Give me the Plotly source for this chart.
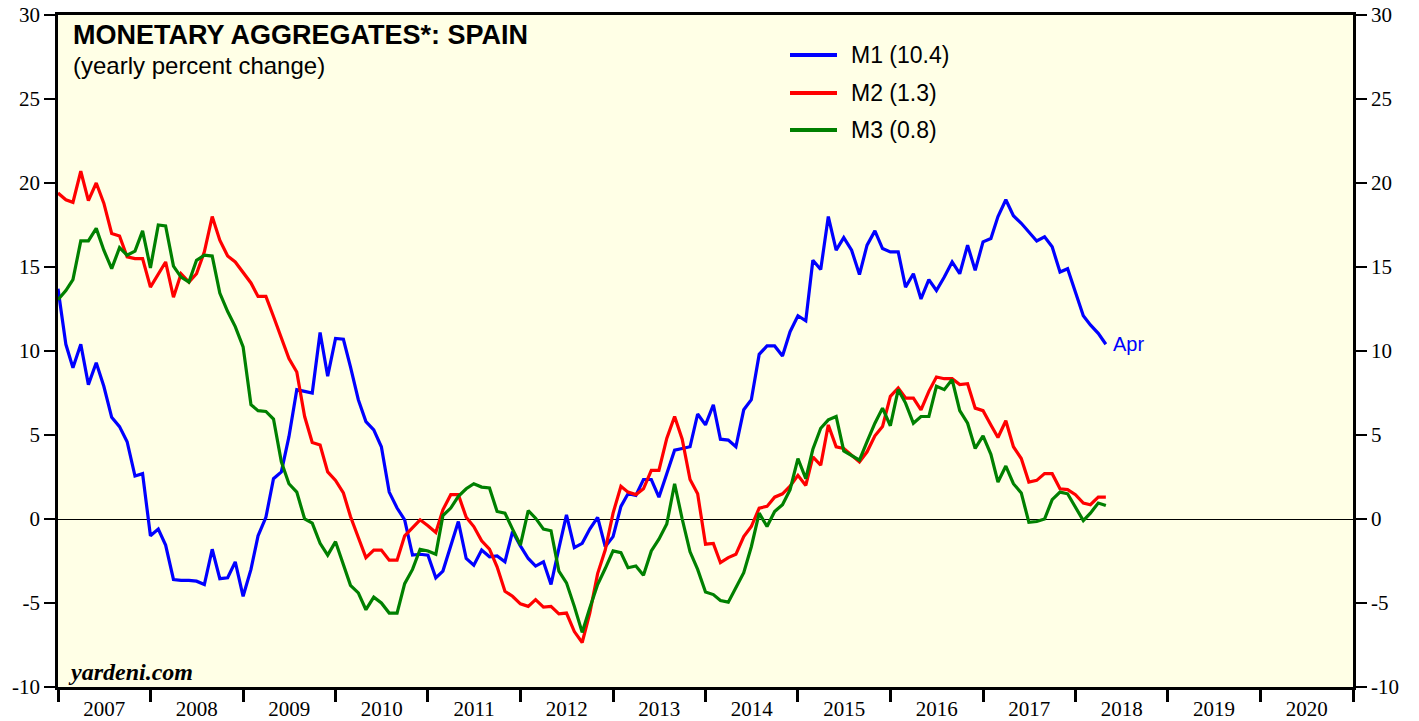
import pandas as pd
import plotly.graph_objects as go

# Monthly observations, Dec 2006 .. Apr 2018 (plotted at month end)
dates = pd.date_range("2007-01-01", periods=137, freq="MS")

m1 = [13.7, 10.4, 9.0, 10.4, 8.0, 9.3, 7.9, 6.05, 5.5, 4.6, 2.56, 2.7,
      -1.0, -0.6, -1.55, -3.6, -3.65, -3.65, -3.7, -3.9, -1.8, -3.55, -3.5, -2.55,
      -4.6, -3.0, -1.0, 0.1, 2.4, 2.8, 4.9, 7.7, 7.6, 7.5, 11.1, 8.5,
      10.75, 10.7, 9.05, 7.1, 5.8, 5.3, 4.3, 1.6, 0.65, -0.05, -2.15, -2.1,
      -2.15, -3.5, -3.1, -1.55, -0.15, -2.35, -2.75, -1.85, -2.25, -2.2, -2.55, -0.75,
      -1.6, -2.35, -2.8, -2.55, -3.9, -1.75, 0.25, -1.7, -1.45, -0.6, 0.1, -1.65,
      -1.05, 0.75, 1.5, 1.4, 2.35, 2.35, 1.3, 2.7, 4.1, 4.2, 4.3, 6.25,
      5.6, 6.8, 4.75, 4.7, 4.3, 6.5, 7.1, 9.8, 10.3, 10.3, 9.7, 11.15,
      12.1, 11.8, 15.4, 14.85, 18.0, 16.0, 16.75, 16.0, 14.55, 16.3, 17.15, 16.1,
      15.9, 15.9, 13.8, 14.6, 13.1, 14.25, 13.6, 14.4, 15.3, 14.6, 16.3, 14.8,
      16.5, 16.7, 18.0, 19.0, 18.05, 17.6, 17.05, 16.55, 16.8, 16.2, 14.7, 14.9,
      13.5, 12.1, 11.55, 11.05, 10.4]

m2 = [19.4, 19.0, 18.85, 20.7, 18.95, 20.0, 18.8, 17.0, 16.85, 15.6, 15.5, 15.5,
      13.8, 14.6, 15.3, 13.2, 14.6, 14.1, 14.6, 15.9, 18.0, 16.6, 15.65, 15.3,
      14.65, 14.05, 13.25, 13.25, 12.05, 10.75, 9.55, 8.75, 6.1, 4.55, 4.4, 2.8,
      2.3, 1.55, 0.15, -1.1, -2.3, -1.85, -1.85, -2.45, -2.45, -1.0, -0.55, -0.05,
      -0.4, -0.8, 0.55, 1.45, 1.45, 0.1, -0.45, -1.3, -1.8, -2.85, -4.3, -4.6,
      -5.05, -5.2, -4.8, -5.25, -5.2, -5.65, -5.6, -6.7, -7.35, -5.6, -3.25, -1.85,
      0.35, 1.95, 1.6, 1.45, 1.8, 2.9, 2.9, 4.8, 6.1, 4.75, 2.35, 1.5,
      -1.5, -1.45, -2.6, -2.3, -2.1, -1.05, -0.45, 0.65, 0.75, 1.3, 1.5, 1.95,
      2.6, 2.0, 3.7, 3.2, 5.6, 4.3, 4.2, 3.8, 3.4, 4.0, 4.95, 5.5,
      7.3, 7.8, 7.2, 7.2, 6.5, 7.6, 8.45, 8.35, 8.35, 8.0, 8.05, 6.6,
      6.45, 5.6, 4.85, 5.85, 4.3, 3.6, 2.2, 2.3, 2.7, 2.7, 1.8, 1.75,
      1.45, 0.95, 0.85, 1.3, 1.3]

m3 = [13.05, 13.6, 14.25, 16.55, 16.55, 17.3, 16.0, 14.9, 16.15, 15.7, 15.95, 17.15,
      14.95, 17.5, 17.45, 15.05, 14.4, 14.1, 15.4, 15.7, 15.65, 13.45, 12.35, 11.45,
      10.25, 6.8, 6.45, 6.4, 5.95, 3.4, 2.1, 1.6, 0.0, -0.25, -1.45, -2.15,
      -1.35, -2.65, -3.95, -4.4, -5.4, -4.65, -5.0, -5.6, -5.6, -3.85, -3.0, -1.8,
      -1.9, -2.1, 0.2, 0.65, 1.35, 1.8, 2.1, 1.9, 1.85, 0.45, 0.35, -0.6,
      -1.55, 0.5, 0.05, -0.6, -0.7, -3.1, -3.8, -5.2, -6.75, -5.3, -3.9, -2.95,
      -1.9, -2.0, -2.9, -2.8, -3.35, -1.9, -1.2, -0.3, 2.1, 0.0, -1.95, -3.0,
      -4.35, -4.5, -4.85, -4.95, -4.05, -3.2, -1.65, 0.35, -0.45, 0.45, 0.85, 1.75,
      3.6, 2.4, 4.15, 5.4, 5.9, 6.1, 4.05, 3.75, 3.5, 4.6, 5.7, 6.6,
      5.55, 7.7, 6.9, 5.7, 6.1, 6.1, 7.9, 7.7, 8.3, 6.45, 5.7, 4.2,
      4.95, 3.85, 2.2, 3.15, 2.1, 1.55, -0.2, -0.15, 0.0, 1.15, 1.6, 1.5,
      0.7, -0.1, 0.35, 0.95, 0.8]

series_names = ["M1 (10.4)", "M2 (1.3)", "M3 (0.8)"]
series_colors = ["#0000FF", "#FF0000", "#008000"]
y_ticks = [-10, -5, 0, 5, 10, 15, 20, 25, 30]
y_tick_text = ["-10", "-5", "0", "5", "10", "15", "20", "25", "30"]

SERIF = "Liberation Serif, Times New Roman, serif"
SANS = "Liberation Sans, Arial, Helvetica, sans-serif"

# plot-area geometry in page pixels (body margin removed by post_script)
FIG_W, FIG_H = 1419, 721
PL, PT, PW, PH = 58, 15, 1295, 672
ML, MT = PL, PT
MR, MB = FIG_W - ML - PW, FIG_H - MT - PH


def px(x):
    return (x - PL) / PW


def py(y):
    return 1 - (y - PT) / PH


fig = go.Figure()
for vals, name, col in zip([m1, m2, m3], series_names, series_colors):
    fig.add_trace(go.Scatter(x=dates, y=vals, mode="lines", name=name,
                             showlegend=False, line=dict(color=col, width=3.2)))

# dummy trace bound to right axis so it is drawn
fig.add_trace(go.Scatter(x=dates, y=m1, mode="lines", yaxis="y2", showlegend=False,
                         hoverinfo="skip", line=dict(width=0, color="rgba(0,0,0,0)")))

# legend drawn manually to match the long key lines
legend_rows = [55, 93, 130]
for name, col, yy in zip(series_names, series_colors, legend_rows):
    fig.add_shape(type="line", xref="paper", yref="paper", x0=px(790), x1=px(837),
                  y0=py(yy), y1=py(yy), line=dict(color=col, width=4))
    fig.add_annotation(xref="paper", yref="paper", x=px(849), y=py(yy), text=name,
                       showarrow=False, xanchor="left", yanchor="middle",
                       font=dict(family=SANS, size=23, color="black"))

fig.add_annotation(x=dates[-1], y=m1[-1], text="Apr", showarrow=False,
                   xanchor="left", yanchor="middle", xshift=5,
                   font=dict(family=SANS, size=20, color="#0000FF"))

fig.add_annotation(xref="paper", yref="paper", x=px(71), y=py(35),
                   text="<b>MONETARY AGGREGATES*: SPAIN</b>",
                   showarrow=False, xanchor="left", yanchor="middle",
                   font=dict(family=SANS, size=27, color="black"))
fig.add_annotation(xref="paper", yref="paper", x=px(71), y=py(66),
                   text="(yearly percent change)",
                   showarrow=False, xanchor="left", yanchor="middle",
                   font=dict(family=SANS, size=24, color="black"))
fig.add_annotation(xref="paper", yref="paper", x=px(66), y=py(672),
                   text="<b><i>yardeni.com</i></b>",
                   showarrow=False, xanchor="left", yanchor="middle",
                   font=dict(family=SERIF, size=24, color="black"))

axis_common = dict(range=[-10, 30], tickvals=y_ticks, ticktext=y_tick_text,
                   ticks="outside", ticklen=11, tickwidth=2, tickcolor="black",
                   showgrid=False, automargin=False, ticklabeloverflow="allow",
                   tickfont=dict(family=SERIF, size=21, color="black"))

fig.update_layout(
    width=FIG_W, height=FIG_H,
    margin=dict(l=ML, r=MR, t=MT, b=MB),
    paper_bgcolor="white",
    plot_bgcolor="#FFFFE6",
    showlegend=False,
    xaxis=dict(range=["2007-01-01", "2021-01-01"], type="date",
               dtick="M12", tick0="2007-01-01", tickformat="%Y",
               ticklabelmode="period", ticks="outside", ticklen=12, tickwidth=3,
               tickcolor="black", showgrid=False, showline=True, linewidth=3,
               linecolor="black", mirror=True, zeroline=False, automargin=False,
               ticklabelstandoff=-11, ticklabeloverflow="allow",
               tickfont=dict(family=SERIF, size=21, color="black")),
    yaxis=dict(**axis_common, side="left", showline=True, linewidth=2.5,
               linecolor="black", mirror=True, zeroline=True, zerolinecolor="black",
               zerolinewidth=1),
    yaxis2=dict(**axis_common, side="right", overlaying="y", showline=True,
                linewidth=2.5, linecolor="black", zeroline=False),
)

fig.write_html("out.html", config={"displayModeBar": False},
               post_script="document.body.style.margin='0';"
                           "document.body.style.overflow='hidden';")
